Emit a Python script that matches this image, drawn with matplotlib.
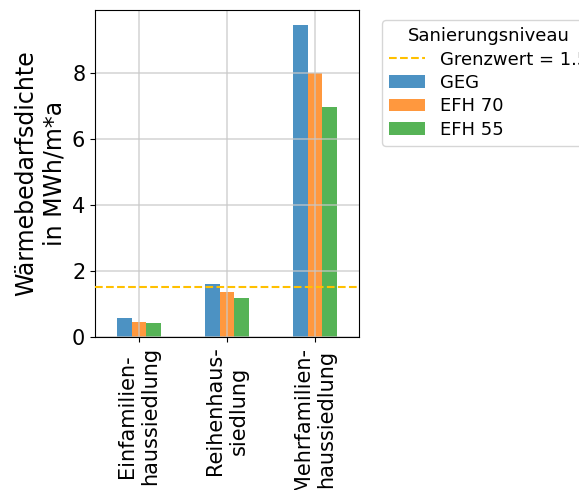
import matplotlib
matplotlib.use('Agg')
import matplotlib.pyplot as plt
import numpy as np

categories = ['Einfamilien-\nhaussiedlung', 'Reihenhaus-\nsiedlung', 'Mehrfamilien-\nhaussiedlung']
series_names = ['GEG', 'EFH 70', 'EFH 55']
geg = [0.58, 1.60, 9.45]
efh70 = [0.45, 1.36, 8.00]
efh55 = [0.42, 1.17, 6.96]
grenzwert = 1.5

colors = ['#1f77b4', '#ff7f0e', '#2ca02c']

fig = plt.figure(figsize=(5.79, 4.9), dpi=100)
ax = fig.add_axes([95 / 579, 153 / 490, 264 / 579, 327 / 490])

x = np.arange(len(categories))
width = 0.5 / 3
for i, (name, vals) in enumerate(zip(series_names, [geg, efh70, efh55])):
    ax.bar(x + (i - 1) * width, vals, width, color=colors[i], alpha=0.8, label=name, zorder=1)

ax.axhline(grenzwert, color='#FFC000', linestyle='--', linewidth=1.5,
           label=f'Grenzwert = {grenzwert}', zorder=4)

ax.set_xlim(-0.5, 2.5)
ax.set_ylim(0, 9.9)
ax.set_yticks([0, 2, 4, 6, 8])
ax.set_xticks(x)
ax.set_xticklabels(categories, rotation=90, fontsize=15, ha='center')
ax.tick_params(axis='y', labelsize=15)
ax.set_axisbelow('line')
ax.grid(True, color='#c8c8c8', linewidth=1.1, alpha=0.8)
ax.set_ylabel('Wärmebedarfsdichte\nin MWh/m*a', fontsize=17)

ax.legend(title='Sanierungsniveau', fontsize=13, title_fontsize=13, labelspacing=0.3,
          loc='upper left', bbox_to_anchor=(382 / 579, 1 - 20 / 490),
          bbox_transform=fig.transFigure, borderaxespad=0)

fig.savefig('out.png', dpi=100)
